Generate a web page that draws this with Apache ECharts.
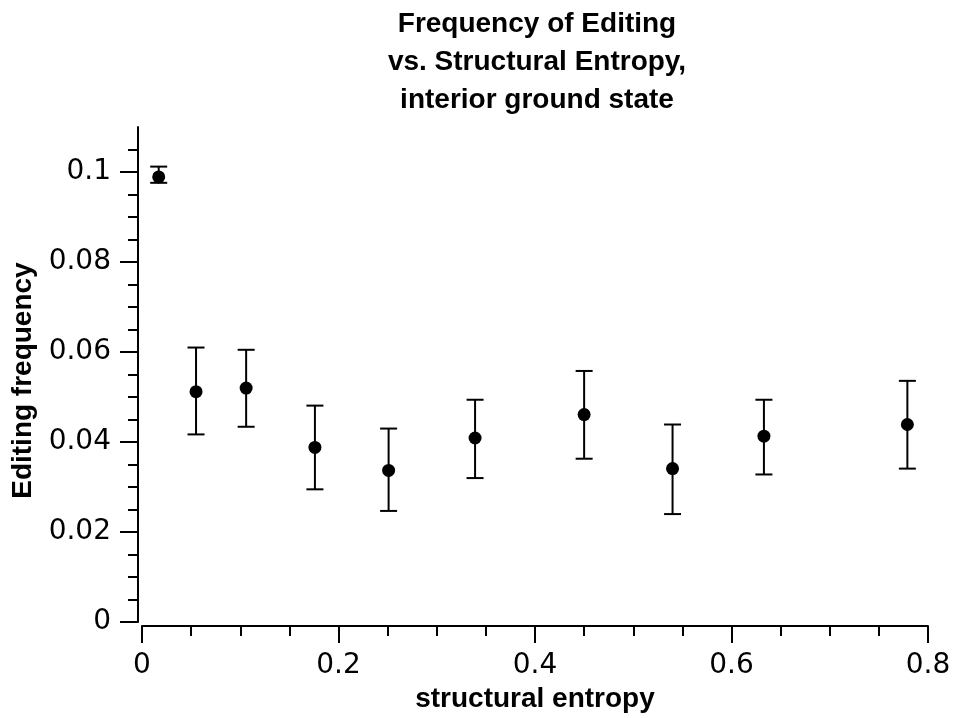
<!DOCTYPE html>
<html>
<head>
<meta charset="utf-8">
<script src="https://cdn.jsdelivr.net/npm/echarts@6/dist/echarts.min.js"></script>
<style>
html,body{margin:0;padding:0;background:#fff;}
#chart{width:955px;height:718px;}
</style>
</head>
<body>
<div id="chart"></div>
<script>
// Data
const entropy  = [0.017, 0.055, 0.106, 0.176, 0.251, 0.339, 0.450, 0.540, 0.633, 0.779];
const freq     = [0.0989, 0.0512, 0.0520, 0.0388, 0.0337, 0.0409, 0.0461, 0.0341, 0.0413, 0.0439];
const freqHigh = [0.1012, 0.0610, 0.0605, 0.0481, 0.0430, 0.0494, 0.0558, 0.0439, 0.0494, 0.0536];
const freqLow  = [0.0976, 0.0417, 0.0434, 0.0295, 0.0247, 0.0320, 0.0363, 0.0240, 0.0328, 0.0341];

const xMajorTicks = [0, 0.2, 0.4, 0.6, 0.8];
const xMinorTicks = [0.05, 0.1, 0.15, 0.25, 0.3, 0.35, 0.45, 0.5, 0.55, 0.65, 0.7, 0.75];
const yMajorTicks = [0, 0.02, 0.04, 0.06, 0.08, 0.1];
const yMinorTicks = [0.005, 0.01, 0.015, 0.025, 0.03, 0.035, 0.045, 0.05, 0.055, 0.065, 0.07, 0.075, 0.085, 0.09, 0.095, 0.105];

const titleText = 'Frequency of Editing\nvs. Structural Entropy,\ninterior ground state';
const xName = 'structural entropy';
const yName = 'Editing frequency';

const BOLD = 'Liberation Sans';
const REG = 'DejaVu Sans';

const chart = echarts.init(document.getElementById('chart'), null, {renderer: 'canvas'});

const pts = entropy.map((x, i) => [x, freq[i]]);
const bars = entropy.map((x, i) => [x, freqLow[i], freqHigh[i]]);

const axisLine = {show: true, onZero: false, lineStyle: {color: '#000', width: 2}};

const option = {
  backgroundColor: '#fff',
  animation: false,
  title: {
    text: titleText,
    left: 537, top: 5, padding: 0,
    textAlign: 'center',
    textStyle: {fontFamily: BOLD, fontWeight: 'bold', fontSize: 28, lineHeight: 38, color: '#000'}
  },
  grid: {left: 142, right: 27, top: 127, bottom: 94, containLabel: false},
  xAxis: [{
    type: 'value', min: 0, max: 0.8, offset: 4, position: 'bottom',
    axisLine: axisLine,
    axisTick: {show: true, length: 17, customValues: xMajorTicks, lineStyle: {color: '#000', width: 2}},
    axisLabel: {show: true, customValues: xMajorTicks, margin: 26, color: '#000', fontFamily: REG, fontSize: 28},
    splitLine: {show: false},
    name: xName, nameLocation: 'middle', nameGap: 58,
    nameTextStyle: {fontFamily: BOLD, fontWeight: 'bold', fontSize: 28, color: '#000'}
  }, {
    type: 'value', min: 0, max: 0.8, offset: 4, position: 'bottom',
    axisLine: {show: false, onZero: false},
    axisTick: {show: true, length: 10, customValues: xMinorTicks, lineStyle: {color: '#000', width: 2}},
    axisLabel: {show: false},
    splitLine: {show: false}
  }],
  yAxis: [{
    type: 'value', min: 0, max: 0.11, offset: 4, position: 'left',
    axisLine: axisLine,
    axisTick: {show: true, length: 18, customValues: yMajorTicks, lineStyle: {color: '#000', width: 2}},
    axisLabel: {show: true, customValues: yMajorTicks, margin: 27, color: '#000', fontFamily: REG, fontSize: 28},
    splitLine: {show: false},
    name: yName, nameLocation: 'middle', nameGap: 89,
    nameTextStyle: {fontFamily: BOLD, fontWeight: 'bold', fontSize: 28, color: '#000', padding: [0, 12, 0, 0]}
  }, {
    type: 'value', min: 0, max: 0.11, offset: 4, position: 'left',
    axisLine: {show: false, onZero: false},
    axisTick: {show: true, length: 10, customValues: yMinorTicks, lineStyle: {color: '#000', width: 2}},
    axisLabel: {show: false},
    splitLine: {show: false}
  }],
  series: [{
    type: 'custom',
    xAxisIndex: 0, yAxisIndex: 0,
    data: bars,
    renderItem: function (params, api) {
      const x = api.value(0);
      const lo = api.coord([x, api.value(1)]);
      const hi = api.coord([x, api.value(2)]);
      const half = 8.5;
      const style = {stroke: '#000', lineWidth: 2};
      return {
        type: 'group',
        children: [
          {type: 'line', shape: {x1: lo[0], y1: lo[1], x2: hi[0], y2: hi[1]}, style: style},
          {type: 'line', shape: {x1: lo[0] - half, y1: lo[1], x2: lo[0] + half, y2: lo[1]}, style: style},
          {type: 'line', shape: {x1: hi[0] - half, y1: hi[1], x2: hi[0] + half, y2: hi[1]}, style: style}
        ]
      };
    },
    silent: true
  }, {
    type: 'scatter',
    xAxisIndex: 0, yAxisIndex: 0,
    data: pts,
    symbol: 'circle', symbolSize: 13,
    itemStyle: {color: '#000', opacity: 1},
    silent: true
  }]
};
chart.setOption(option);
</script>
</body>
</html>
